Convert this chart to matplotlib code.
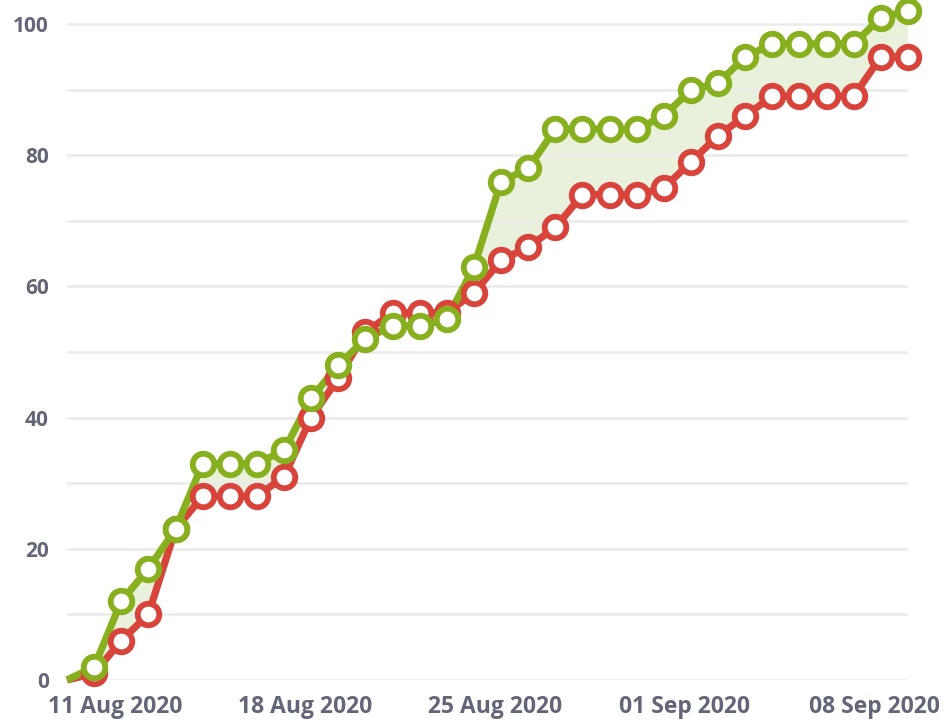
import numpy as np
import pandas as pd
import matplotlib
matplotlib.use('Agg')
import matplotlib.pyplot as plt
import matplotlib.dates as mdates
from matplotlib.transforms import ScaledTranslation

# daily values, 11 Aug 2020 .. 11 Sep 2020
dates = pd.date_range('2020-08-11', '2020-09-11', freq='D')
green_vals = [0, 2, 12, 17, 23, 33, 33, 33, 35, 43, 48, 52, 54, 54, 55, 63,
              76, 78, 84, 84, 84, 84, 86, 90, 91, 95, 97, 97, 97, 97, 101, 102]
red_vals = [0, 1, 6, 10, 23, 28, 28, 28, 31, 40, 46, 53, 56, 56, 56, 59,
            64, 66, 69, 74, 74, 74, 75, 79, 83, 86, 89, 89, 89, 89, 95, 95]
tick_dates = ['2020-08-11', '2020-08-18', '2020-08-25', '2020-09-01', '2020-09-08']
y_ticks = [0, 20, 40, 60, 80, 100]

GREEN = '#86b01e'
RED = '#d8443a'
FILL = '#e9f0dc'
LABEL = '#626678'

plt.rcParams['font.family'] = ['Open Sans', 'DejaVu Sans']

fig = plt.figure(figsize=(9.45, 7.25), dpi=100)
W, H = 945, 725
left, right, bottom, top = 67, 908, 680, 11
ax = fig.add_axes([left / W, 1 - bottom / H, (right - left) / W, (bottom - top) / H])

g = np.array(green_vals)
r = np.array(red_vals)

ax.fill_between(dates, r, g, where=g >= r, interpolate=True, color=FILL,
                linewidth=0, zorder=1, clip_on=False)

ax.plot(dates, r, color=RED, lw=5.2, zorder=2, clip_on=False, solid_capstyle='butt')
ax.plot(dates, g, color=GREEN, lw=5.2, zorder=3, clip_on=False, solid_capstyle='butt')
ax.plot(dates[1:], r[1:], 'o', ms=15.5, mfc='white', mec=RED, mew=4.2,
        zorder=4, clip_on=False)
ax.plot(dates[1:], g[1:], 'o', ms=15.5, mfc='white', mec=GREEN, mew=4.2,
        zorder=5, clip_on=False)

ax.set_xlim(dates[0], dates[-1])
ax.set_ylim(0, 102)

ax.set_yticks(y_ticks)
ax.set_yticks(np.arange(0, 101, 10), minor=True)
ax.grid(True, which='both', axis='y', color='#ebebeb', lw=1.8, zorder=0)
ax.tick_params(axis='y', which='both', length=0, pad=13, labelsize=15,
               labelcolor=LABEL)

ax.set_xticks(pd.to_datetime(tick_dates))
ax.xaxis.set_major_formatter(mdates.DateFormatter('%d %b %Y'))
ax.tick_params(axis='x', length=0, pad=11, labelsize=16.5, labelcolor=LABEL)

for lab in ax.get_yticklabels() + ax.get_xticklabels():
    lab.set_fontweight('bold')
shift = ScaledTranslation(0.48, 0, fig.dpi_scale_trans)
for lab in ax.get_xticklabels():
    lab.set_transform(lab.get_transform() + shift)

for s in ax.spines.values():
    s.set_visible(False)

fig.savefig('out.png', dpi=100)
